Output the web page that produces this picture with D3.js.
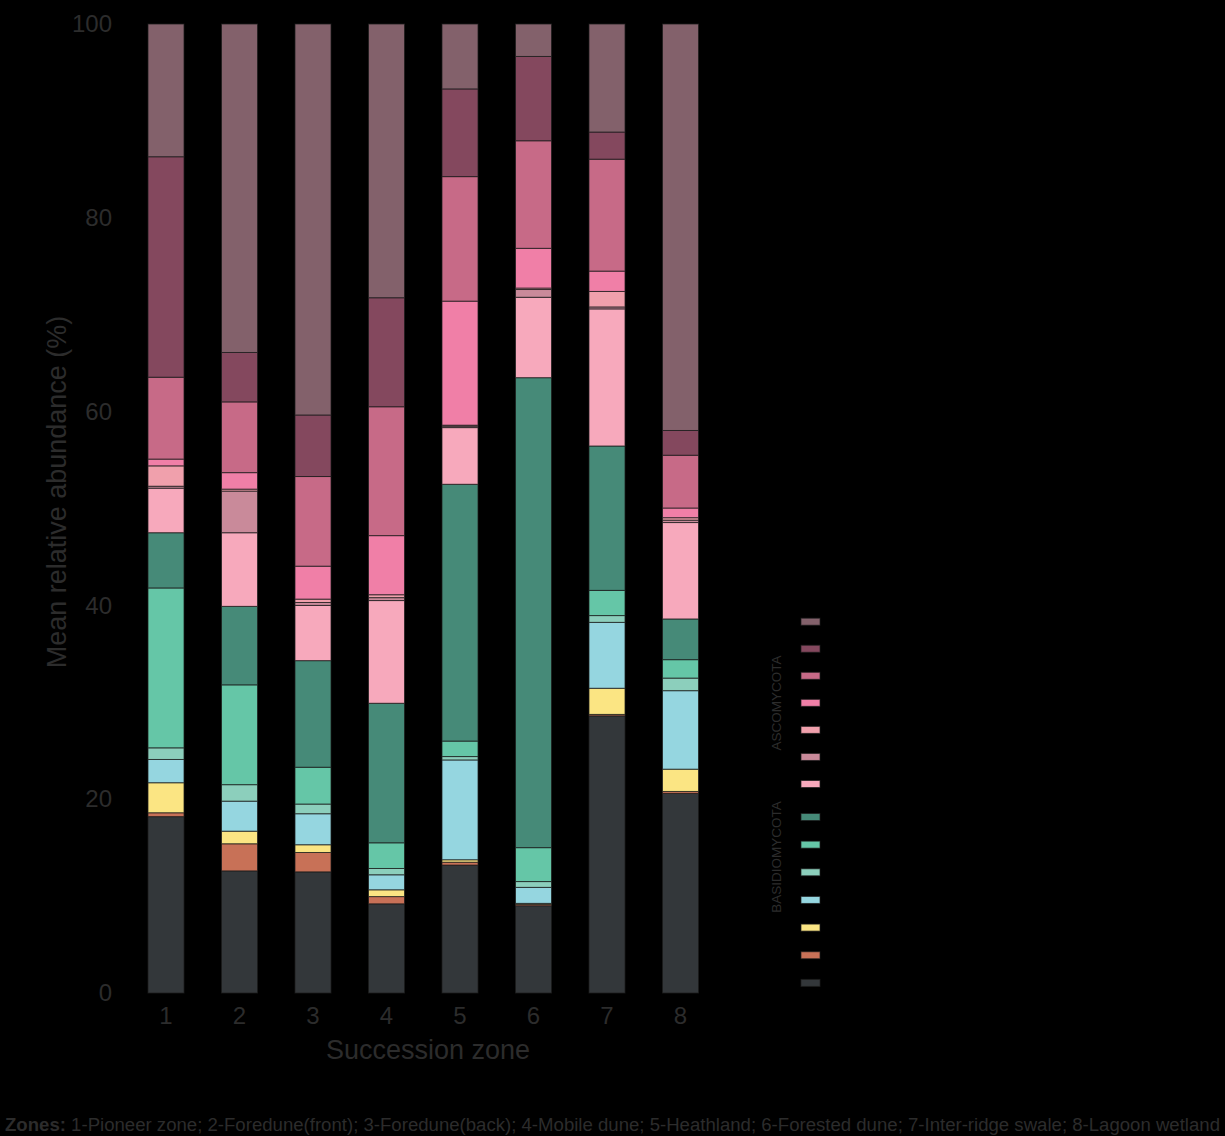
<!DOCTYPE html>
<html>
<head>
<meta charset="utf-8">
<script src="https://cdn.jsdelivr.net/npm/d3@7"></script>
<style>
  html, body { margin: 0; padding: 0; background: #000; }
  svg { display: block; }
  text { font-family: "Liberation Sans", Arial, Helvetica, sans-serif; }
</style>
</head>
<body>
<svg id="chart" width="1225" height="1136"></svg>
<script>
// ---- data ----
const zones = ["1", "2", "3", "4", "5", "6", "7", "8"];
// stacking order: bottom -> top
const seriesKeys = ["B7", "B6", "B5", "B4", "B3", "B2", "B1", "A7", "A6", "A5", "A4", "A3", "A2", "A1"];
const seriesGroup = ["BASIDIOMYCOTA","BASIDIOMYCOTA","BASIDIOMYCOTA","BASIDIOMYCOTA","BASIDIOMYCOTA","BASIDIOMYCOTA","BASIDIOMYCOTA",
                     "ASCOMYCOTA","ASCOMYCOTA","ASCOMYCOTA","ASCOMYCOTA","ASCOMYCOTA","ASCOMYCOTA","ASCOMYCOTA"];
const seriesColors = ["#33373a", "#c87157", "#fbe583", "#95d6e0", "#8ccfbc", "#65c6a7", "#468a78",
                      "#f7a9bc", "#c98a9a", "#f0a0ac", "#f07fa7", "#c76a87", "#84485e", "#83616b"];
// values per series (one per zone)
const B7 = [18.2, 12.6, 12.5, 9.2, 13.2, 9.0, 28.6, 20.6];
const B6 = [0.4, 2.8, 2.0, 0.75, 0.3, 0.15, 0.15, 0.2];
const B5 = [3.1, 1.3, 0.8, 0.7, 0.25, 0.1, 2.7, 2.3];
const B4 = [2.4, 3.1, 3.2, 1.55, 10.3, 1.65, 6.8, 8.1];
const B3 = [1.2, 1.7, 1.0, 0.65, 0.35, 0.6, 0.7, 1.3];
const B2 = [16.5, 10.3, 3.8, 2.65, 1.6, 3.5, 2.6, 1.9];
const B1 = [5.7, 8.1, 11.0, 14.4, 26.5, 48.5, 14.9, 4.2];
const A7 = [4.6, 7.6, 5.7, 10.6, 5.85, 8.3, 14.15, 9.95];
const A6 = [0.2, 4.3, 0.3, 0.3, 0.15, 0.8, 0.2, 0.25];
const A5 = [2.1, 0.2, 0.35, 0.3, 0.1, 0.15, 1.6, 0.25];
const A4 = [0.7, 1.7, 3.4, 6.1, 12.8, 4.1, 2.1, 1.0];
const A3 = [8.45, 7.3, 9.25, 13.3, 12.85, 11.1, 11.55, 5.45];
const A2 = [22.75, 5.1, 6.35, 11.25, 9.05, 8.7, 2.8, 2.55];
const A1 = [13.7, 33.9, 40.35, 28.25, 6.7, 3.35, 11.15, 41.95];
const yTicks = [0, 20, 40, 60, 80, 100];
const yTitle = "Mean relative abundance (%)";
const xTitle = "Succession zone";
const captionBold = "Zones:";
const captionText = " 1-Pioneer zone; 2-Foredune(front); 3-Foredune(back); 4-Mobile dune; 5-Heathland; 6-Forested dune; 7-Inter-ridge swale; 8-Lagoon wetland";

// ---- build table ----
const seriesValues = { B7, B6, B5, B4, B3, B2, B1, A7, A6, A5, A4, A3, A2, A1 };
const table = zones.map((z, i) => {
  const row = { zone: z };
  seriesKeys.forEach(k => { row[k] = seriesValues[k][i]; });
  return row;
});

const svg = d3.select("#chart");
const textColor = "#2c2c2c";

svg.append("rect").attr("width", 1225).attr("height", 1136).attr("fill", "#000");

const x = d3.scaleBand().domain(zones).range([129.25, 717.25]).paddingInner(0.51).paddingOuter(0.255);
const y = d3.scaleLinear().domain([0, 100]).range([993, 24]);
const color = d3.scaleOrdinal().domain(seriesKeys).range(seriesColors);

const stacked = d3.stack().keys(seriesKeys)(table);

svg.append("g").selectAll("g")
  .data(stacked).join("g")
  .attr("fill", d => color(d.key))
  .selectAll("rect")
  .data(d => d).join("rect")
  .attr("x", d => x(d.data.zone))
  .attr("width", x.bandwidth())
  .attr("y", d => y(d[1]))
  .attr("height", d => Math.max(0, y(d[0]) - y(d[1])))
  .attr("stroke", "#1c1c1c")
  .attr("stroke-width", 1)
  .attr("stroke-opacity", 0.75);

// y axis
const yAxis = svg.append("g").attr("transform", "translate(129,0)")
  .call(d3.axisLeft(y).tickValues(yTicks).tickSize(0).tickPadding(17));
yAxis.select(".domain").remove();
yAxis.selectAll("text").attr("fill", textColor).style("font-size", "24px")
  .style("font-family", "'Liberation Sans', Arial, sans-serif");

// x axis
const xAxis = svg.append("g").attr("transform", "translate(0,993)")
  .call(d3.axisBottom(x).tickSize(0).tickPadding(14));
xAxis.select(".domain").remove();
xAxis.selectAll("text").attr("fill", textColor).style("font-size", "24px")
  .style("font-family", "'Liberation Sans', Arial, sans-serif");

// titles
svg.append("text")
  .attr("transform", "translate(66,492) rotate(-90)")
  .attr("text-anchor", "middle")
  .attr("fill", textColor)
  .style("font-size", "27px")
  .text(yTitle);

svg.append("text")
  .attr("x", 428).attr("y", 1059)
  .attr("text-anchor", "middle")
  .attr("fill", textColor)
  .style("font-size", "27px")
  .text(xTitle);

// caption
const cap = svg.append("text")
  .attr("x", 5).attr("y", 1131)
  .attr("fill", textColor)
  .style("font-size", "18px")
  .attr("textLength", 1215)
  .attr("lengthAdjust", "spacingAndGlyphs");
cap.append("tspan").style("font-weight", "bold").text(captionBold);
cap.append("tspan").text(captionText);

// legend
const legendKeys = seriesKeys.slice().reverse();
const legendY = (i) => i < 7 ? 621.7 + i * 27.05 : 817 + (i - 7) * 27.65;
const legend = svg.append("g");
legend.selectAll("rect")
  .data(legendKeys).join("rect")
  .attr("x", 801)
  .attr("y", (d, i) => legendY(i) - 3.5)
  .attr("width", 19)
  .attr("height", 7)
  .attr("fill", d => color(d))
  .attr("stroke", "#1c1c1c")
  .attr("stroke-width", 1)
  .attr("stroke-opacity", 0.7);

const groups = [
  { name: "ASCOMYCOTA", cy: 703 },
  { name: "BASIDIOMYCOTA", cy: 857 }
];
legend.selectAll("text.grp")
  .data(groups).join("text")
  .attr("class", "grp")
  .attr("transform", d => `translate(781,${d.cy}) rotate(-90)`)
  .attr("text-anchor", "middle")
  .attr("fill", textColor)
  .style("font-size", "13.5px")
  .text(d => d.name);
</script>
</body>
</html>
